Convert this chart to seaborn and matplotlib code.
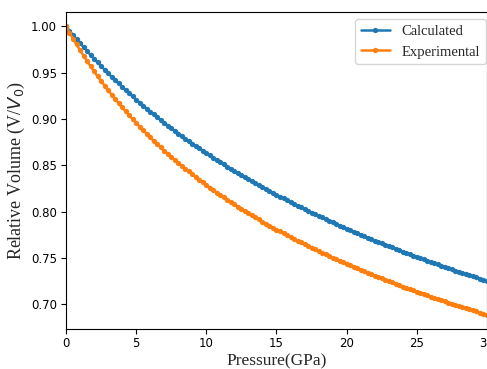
import matplotlib
matplotlib.use("Agg")
import matplotlib.pyplot as plt
import seaborn as sns


OUTPUT_FILE = "out.png"

# pressure grid (GPa), 0.25 GPa step
pressure = [
    0.0, 0.25, 0.5, 0.75, 1.0, 1.25, 1.5, 1.75, 2.0, 2.25, 2.5, 2.75,
    3.0, 3.25, 3.5, 3.75, 4.0, 4.25, 4.5, 4.75, 5.0, 5.25, 5.5, 5.75,
    6.0, 6.25, 6.5, 6.75, 7.0, 7.25, 7.5, 7.75, 8.0, 8.25, 8.5, 8.75,
    9.0, 9.25, 9.5, 9.75, 10.0, 10.25, 10.5, 10.75, 11.0, 11.25, 11.5, 11.75,
    12.0, 12.25, 12.5, 12.75, 13.0, 13.25, 13.5, 13.75, 14.0, 14.25, 14.5, 14.75,
    15.0, 15.25, 15.5, 15.75, 16.0, 16.25, 16.5, 16.75, 17.0, 17.25, 17.5, 17.75,
    18.0, 18.25, 18.5, 18.75, 19.0, 19.25, 19.5, 19.75, 20.0, 20.25, 20.5, 20.75,
    21.0, 21.25, 21.5, 21.75, 22.0, 22.25, 22.5, 22.75, 23.0, 23.25, 23.5, 23.75,
    24.0, 24.25, 24.5, 24.75, 25.0, 25.25, 25.5, 25.75, 26.0, 26.25, 26.5, 26.75,
    27.0, 27.25, 27.5, 27.75, 28.0, 28.25, 28.5, 28.75, 29.0, 29.25, 29.5, 29.75,
    30.0,
]

calculated = [
    1.0000, 0.9953, 0.9908, 0.9863, 0.9819, 0.9777, 0.9735, 0.9692,
    0.9650, 0.9611, 0.9572, 0.9533, 0.9494, 0.9457, 0.9420, 0.9384,
    0.9347, 0.9313, 0.9279, 0.9244, 0.9210, 0.9178, 0.9146, 0.9113,
    0.9081, 0.9050, 0.9020, 0.8989, 0.8959, 0.8930, 0.8902, 0.8873,
    0.8844, 0.8817, 0.8790, 0.8762, 0.8735, 0.8709, 0.8684, 0.8658,
    0.8632, 0.8607, 0.8583, 0.8558, 0.8533, 0.8510, 0.8486, 0.8463,
    0.8439, 0.8417, 0.8395, 0.8372, 0.8350, 0.8329, 0.8307, 0.8286,
    0.8264, 0.8244, 0.8223, 0.8203, 0.8182, 0.8162, 0.8143, 0.8123,
    0.8103, 0.8084, 0.8065, 0.8046, 0.8027, 0.8009, 0.7991, 0.7973,
    0.7955, 0.7938, 0.7920, 0.7903, 0.7885, 0.7868, 0.7851, 0.7834,
    0.7817, 0.7801, 0.7785, 0.7768, 0.7752, 0.7736, 0.7721, 0.7705,
    0.7689, 0.7674, 0.7659, 0.7643, 0.7628, 0.7614, 0.7599, 0.7585,
    0.7570, 0.7556, 0.7542, 0.7527, 0.7513, 0.7499, 0.7486, 0.7472,
    0.7458, 0.7445, 0.7431, 0.7418, 0.7404, 0.7391, 0.7378, 0.7365,
    0.7352, 0.7340, 0.7327, 0.7315, 0.7302, 0.7290, 0.7278, 0.7265,
    0.7253,
]

experimental = [
    1.0000, 0.9933, 0.9868, 0.9805, 0.9743, 0.9684, 0.9626, 0.9569,
    0.9514, 0.9461, 0.9410, 0.9360, 0.9310, 0.9264, 0.9218, 0.9171,
    0.9125, 0.9083, 0.9041, 0.8998, 0.8956, 0.8917, 0.8879, 0.8840,
    0.8801, 0.8765, 0.8730, 0.8694, 0.8658, 0.8625, 0.8592, 0.8559,
    0.8526, 0.8495, 0.8465, 0.8434, 0.8403, 0.8374, 0.8346, 0.8317,
    0.8288, 0.8261, 0.8234, 0.8207, 0.8180, 0.8155, 0.8130, 0.8104,
    0.8079, 0.8055, 0.8031, 0.8007, 0.7983, 0.7961, 0.7938, 0.7916,
    0.7893, 0.7872, 0.7850, 0.7829, 0.7807, 0.7787, 0.7767, 0.7746,
    0.7726, 0.7707, 0.7687, 0.7668, 0.7648, 0.7630, 0.7611, 0.7593,
    0.7574, 0.7557, 0.7539, 0.7522, 0.7504, 0.7487, 0.7470, 0.7453,
    0.7436, 0.7420, 0.7404, 0.7388, 0.7372, 0.7356, 0.7341, 0.7325,
    0.7309, 0.7294, 0.7280, 0.7265, 0.7250, 0.7236, 0.7221, 0.7207,
    0.7192, 0.7178, 0.7165, 0.7151, 0.7137, 0.7124, 0.7111, 0.7097,
    0.7084, 0.7071, 0.7058, 0.7045, 0.7032, 0.7020, 0.7008, 0.6995,
    0.6983, 0.6971, 0.6959, 0.6947, 0.6935, 0.6923, 0.6912, 0.6900,
    0.6888,
]

x_ticks = [0, 5, 10, 15, 20, 25, 30]
y_ticks = [0.70, 0.75, 0.80, 0.85, 0.90, 0.95, 1.00]


def configure_plot_style() -> None:
    sns.set_style("ticks")
    plt.rcParams["font.family"] = ["DejaVu Sans"]
    plt.rcParams["axes.edgecolor"] = "black"
    plt.rcParams["xtick.color"] = "black"
    plt.rcParams["ytick.color"] = "black"
    plt.rcParams["xtick.labelsize"] = 8.5
    plt.rcParams["ytick.labelsize"] = 8.5
    plt.rcParams["xtick.major.pad"] = 2.0
    plt.rcParams["ytick.major.pad"] = 3.0


def main() -> None:
    configure_plot_style()
    fig = plt.figure(figsize=(4.87, 3.69), dpi=100)
    ax = fig.add_axes([0.1355, 0.108, 0.8645, 0.8595])

    line_kws = dict(marker="o", markersize=3.8, markeredgewidth=0, linewidth=1.8)
    sns.lineplot(x=pressure, y=calculated, color="#1f77b4", label="Calculated", ax=ax, **line_kws)
    sns.lineplot(x=pressure, y=experimental, color="#ff7f0e", label="Experimental", ax=ax, **line_kws)

    ax.set_xlim(0, 30)
    ax.set_xticks(x_ticks)
    ax.set_yticks(y_ticks)
    ax.set_yticklabels([f"{v:.2f}" for v in y_ticks])

    serif = ["Liberation Serif", "DejaVu Serif"]
    ax.set_xlabel("Pressure(GPa)", fontsize=12.5, family=serif, labelpad=2.5)
    ax.set_ylabel("Relative Volume (V/$V_0$)", fontsize=13, family=serif, labelpad=3)

    ax.legend(loc="upper right", bbox_to_anchor=(0.9976, 0.978), borderaxespad=0,
              prop={"family": serif, "size": 10.5}, handlelength=2.0)

    fig.savefig(OUTPUT_FILE, dpi=100)
    plt.close(fig)


if __name__ == "__main__":
    main()
